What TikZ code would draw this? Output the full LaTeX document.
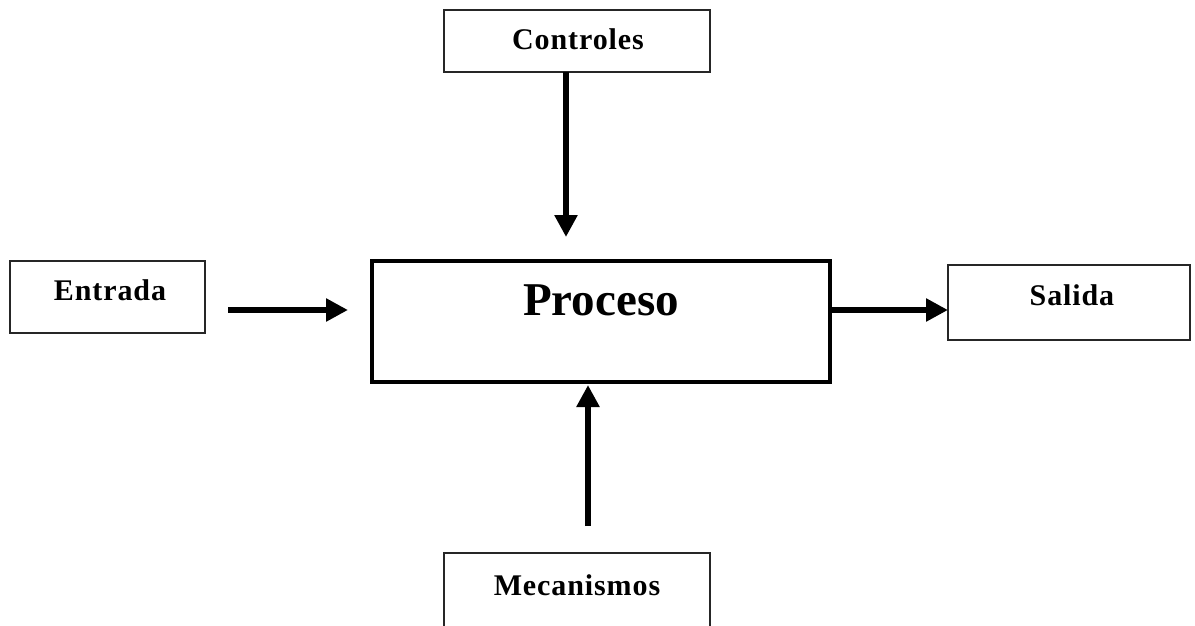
\documentclass[tikz,border=0pt]{standalone}
\usepackage{fontspec}
\setmainfont{Liberation Serif}
\newfontfamily\lblfont[LetterSpace=3]{Liberation Serif}
\usetikzlibrary{arrows.meta}
\begin{document}
\begin{tikzpicture}[x=1pt,y=-1pt,
  smallbox/.style={draw=black!85,line width=1.3pt,inner sep=0pt},
  bigbox/.style={draw=black,line width=4.5pt,inner sep=0pt},
  lbl/.style={font=\lblfont\bfseries\fontsize{30}{30}\selectfont,inner sep=0pt,anchor=base},
  biglbl/.style={font=\bfseries\fontsize{47}{47}\selectfont,inner sep=0pt,anchor=base},
  flow/.style={line width=6pt,-{Triangle[length=22pt,width=22pt]}}]
\useasboundingbox (0,0) rectangle (1195,626);
% boxes
\node[smallbox,minimum width=266pt,minimum height=62pt] (ctrlbox) at (577,41) {};
\node[smallbox,minimum width=195pt,minimum height=72pt] (entbox) at (107.5,297) {};
\node[bigbox,minimum width=458pt,minimum height=121pt] (procbox) at (601,321.5) {};
\node[smallbox,minimum width=242pt,minimum height=75pt] (salbox) at (1069,302.5) {};
\node[smallbox,minimum width=266pt,minimum height=100pt] (mecbox) at (577,603) {};
% texts
\node[lbl] (ctrl) at (578,50) {Controles};
\node[lbl] (ent) at (110,300) {Entrada};
\node[biglbl] (proc) at (601,315) {Proceso};
\node[lbl] (sal) at (1072,305) {Salida};
\node[lbl] (mec) at (577,595) {Mecanismos};
% connectors
\coordinate (c1) at (566,72);
\coordinate (c2) at (566,237);
\coordinate (e1) at (228,310);
\coordinate (e2) at (348,310);
\coordinate (s1) at (830,310);
\coordinate (s2) at (948,310);
\coordinate (m1) at (588,526);
\coordinate (m2) at (588,385);
\draw[flow] (c1) -- (c2);
\draw[flow] (e1) -- (e2);
\draw[flow] (s1) -- (s2);
\draw[flow] (m1) -- (m2);
\end{tikzpicture}
\end{document}
